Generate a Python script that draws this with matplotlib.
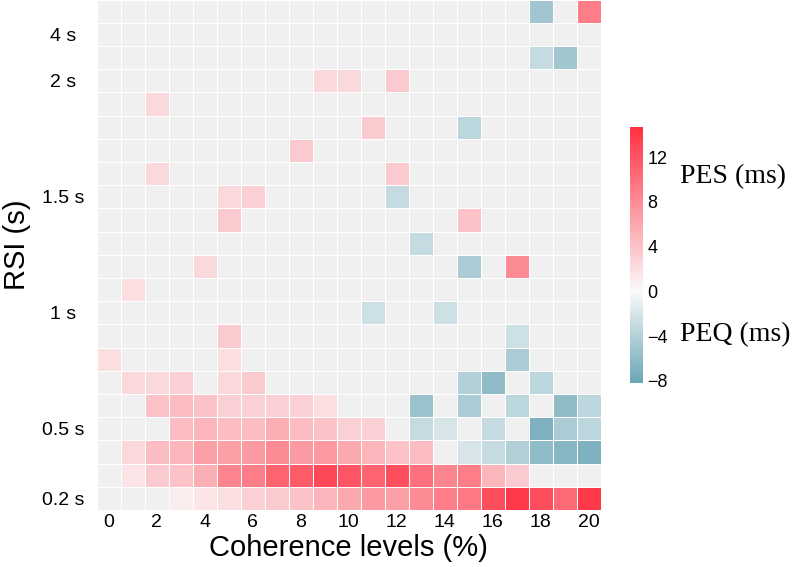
import numpy as np
import matplotlib
matplotlib.use('Agg')
import matplotlib.pyplot as plt
from matplotlib.colors import LinearSegmentedColormap, Normalize

n = np.nan

# coherence levels (columns) and RSI rows (bottom to top)
coherence = list(range(21))
xtick_labels = [str(c) for c in range(0, 21, 2)]
rsi_tick_rows = [0, 3, 8, 13, 18, 20]
rsi_tick_labels = ['0.2 s', '0.5 s', '1 s', '1.5 s', '2 s', '4 s']

# PES (+) / PEQ (-) in ms, rows listed from top (longest RSI) to bottom
pe_rows_top_down = [
    [n, n, n, n, n, n, n, n, n, n, n, n, n, n, n, n, n, n, -5, n, 9],
    [n, n, n, n, n, n, n, n, n, n, n, n, n, n, n, n, n, n, n, n, n],
    [n, n, n, n, n, n, n, n, n, n, n, n, n, n, n, n, n, n, -3, -5, n],
    [n, n, n, n, n, n, n, n, n, 2.5, 2.5, n, 3.5, n, n, n, n, n, n, n, n],
    [n, n, 2.5, n, n, n, n, n, n, n, n, n, n, n, n, n, n, n, n, n, n],
    [n, n, n, n, n, n, n, n, n, n, n, 3.5, n, n, n, -3.5, n, n, n, n, n],
    [n, n, n, n, n, n, n, n, 3.5, n, n, n, n, n, n, n, n, n, n, n, n],
    [n, n, 2.5, n, n, n, n, n, n, n, n, n, 3.5, n, n, n, n, n, n, n, n],
    [n, n, n, n, n, 2.5, 3, n, n, n, n, n, -3, n, n, n, n, n, n, n, n],
    [n, n, n, n, n, 3.5, n, n, n, n, n, n, n, n, n, 4, n, n, n, n, n],
    [n, n, n, n, n, n, n, n, n, n, n, n, n, -3, n, n, n, n, n, n, n],
    [n, n, n, n, 2.5, n, n, n, n, n, n, n, n, n, n, -4.5, n, 8, n, n, n],
    [n, 2, n, n, n, n, n, n, n, n, n, n, n, n, n, n, n, n, n, n, n],
    [n, n, n, n, n, n, n, n, n, n, n, -2.5, n, n, -2.5, n, n, n, n, n, n],
    [n, n, n, n, n, 3.5, n, n, n, n, n, n, n, n, n, n, n, -2.5, n, n, n],
    [2, n, n, n, n, 2, n, n, n, n, n, n, n, n, n, n, n, -4.5, n, n, n],
    [n, 2.5, 2.5, 3, n, 2.5, 3.5, n, n, n, n, n, n, n, n, -4, -6, n, -3.5, n, n],
    [n, n, 4, 4.5, 4, 3, 3, 3, 3, 2, n, n, n, -5.5, n, -4.5, n, -3.5, n, -6, -3.5],
    [n, n, n, 4.5, 5, 4.5, 4.5, 5.5, 4.5, 4, 3, 3, n, -3, -2, n, -3, n, -7, -4.5, -3.5],
    [n, 2.5, 4.5, 5, 6.5, 6.5, 7, 8, 7, 7, 6, 5, 4, 4.5, n, -2, -3, -4, -6, -6.5, -7],
    [n, 1.5, 3.5, 4, 5.5, 8.5, 9, 11, 11.5, 13, 12, 11, 12.5, 10, 8.5, 9, 5, 3.5, n, n, n],
    [n, n, n, 1, 1.5, 2, 3, 3.5, 4, 5, 6, 7, 6.5, 8, 9, 9.5, 12.5, 14, 12.5, 10.5, 14],
]

vmin, vmax = -8.2, 14.7
data = np.ma.masked_invalid(np.array(pe_rows_top_down, dtype=float)[::-1])

mid = -vmin / (vmax - vmin)
cmap = LinearSegmentedColormap.from_list(
    'pes_peq', [(0.0, '#6aa6b6'), (mid, '#fafafa'), (1.0, '#ff3042')])
cmap.set_bad('#f0f0f0')
norm = Normalize(vmin=vmin, vmax=vmax)

plt.rcParams['font.family'] = ['Liberation Sans', 'DejaVu Sans']

fig = plt.figure(figsize=(8, 5.67), dpi=100)
ax = fig.add_axes([0.121, 0.1005, 0.63, 0.9])

mesh = ax.pcolormesh(np.arange(22) - 0.5, np.arange(23) - 0.5, data,
                     cmap=cmap, norm=norm, edgecolors='white', linewidth=0.7)
ax.set_xlim(-0.5, 20.5)
ax.set_ylim(-0.5, 21.5)

ax.set_xticks(range(0, 21, 2))
ax.set_xticklabels(xtick_labels, fontsize=14)
ax.set_yticks(rsi_tick_rows)
ax.set_yticklabels(rsi_tick_labels, fontsize=14, ha='center')
ax.tick_params(axis='x', length=0, pad=3)
ax.tick_params(axis='y', length=0, pad=24)
for s in ax.spines.values():
    s.set_visible(False)

ax.set_xlabel('Coherence levels (%)', fontsize=21, labelpad=2)
ax.set_ylabel('RSI (s)', fontsize=21)
ax.yaxis.set_label_coords(-0.13, 0.52)

# colorbar
cax = fig.add_axes([0.7875, 0.3245, 0.0165, 0.4515])
cb = fig.colorbar(mesh, cax=cax, ticks=[-8, -4, 0, 4, 8, 12])
cb.outline.set_visible(False)
cb.ax.tick_params(length=0, labelsize=13, pad=3)

fig.text(0.85, 0.688, 'PES (ms)', fontsize=20, family='Liberation Serif', va='center')
fig.text(0.85, 0.409, 'PEQ (ms)', fontsize=20, family='Liberation Serif', va='center')

fig.savefig('out.png', dpi=100)
